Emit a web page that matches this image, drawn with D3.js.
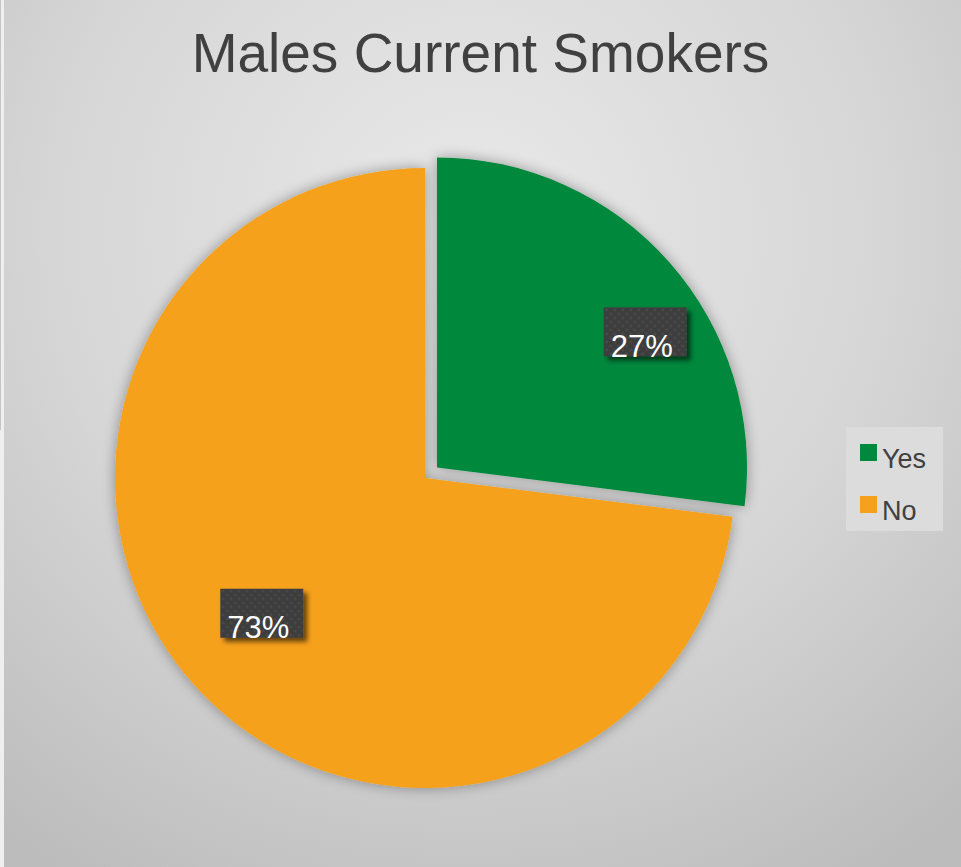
<!DOCTYPE html>
<html>
<head>
<meta charset="utf-8">
<script src="https://cdn.jsdelivr.net/npm/d3@7"></script>
<style>
  html, body { margin: 0; padding: 0; background: #ffffff; }
  svg { display: block; }
</style>
</head>
<body>
<div id="chart"></div>
<script>
// ---- data ----
const title = "Males Current Smokers";
const categories = ["Yes", "No"];
const values = [27, 73];
const colors = ["#00883d", "#f6a11d"];

// ---- layout ----
const W = 961, H = 867;
const R = 310;
const center = { x: 425, y: 478 };
const explode = [16, 0];
// label placement inside each slice: fraction of angle span and fraction of radius
const labelPlace = [{ t: 0.585, r: 0.80 }, { t: 0.507, r: 0.685 }];

const svg = d3.select("#chart").append("svg")
  .attr("width", W).attr("height", H);

const defs = svg.append("defs");
const bg = defs.append("radialGradient").attr("id", "bg")
  .attr("gradientUnits", "userSpaceOnUse")
  .attr("cx", 470).attr("cy", 230).attr("r", 760);
bg.append("stop").attr("offset", "0%").attr("stop-color", "#e9e9e9");
bg.append("stop").attr("offset", "55%").attr("stop-color", "#d6d6d6");
bg.append("stop").attr("offset", "100%").attr("stop-color", "#bcbcbc");

const sh = defs.append("filter").attr("id", "pieShadow")
  .attr("x", "-20%").attr("y", "-20%").attr("width", "140%").attr("height", "140%");
sh.append("feGaussianBlur").attr("in", "SourceAlpha").attr("stdDeviation", 7).attr("result", "b");
sh.append("feOffset").attr("in", "b").attr("dx", 0).attr("dy", 0).attr("result", "o");
sh.append("feComponentTransfer").attr("in", "o").attr("result", "s")
  .append("feFuncA").attr("type", "linear").attr("slope", 0.35);
const m1 = sh.append("feMerge");
m1.append("feMergeNode").attr("in", "s");
m1.append("feMergeNode").attr("in", "SourceGraphic");

const lsh = defs.append("filter").attr("id", "lblShadow")
  .attr("x", "-30%").attr("y", "-30%").attr("width", "170%").attr("height", "170%");
lsh.append("feGaussianBlur").attr("in", "SourceAlpha").attr("stdDeviation", 2.5).attr("result", "b");
lsh.append("feOffset").attr("in", "b").attr("dx", 4).attr("dy", 4).attr("result", "o");
lsh.append("feComponentTransfer").attr("in", "o").attr("result", "s")
  .append("feFuncA").attr("type", "linear").attr("slope", 0.6);
const m2 = lsh.append("feMerge");
m2.append("feMergeNode").attr("in", "s");
m2.append("feMergeNode").attr("in", "SourceGraphic");

const pat = defs.append("pattern").attr("id", "dots")
  .attr("patternUnits", "userSpaceOnUse").attr("width", 8).attr("height", 8);
pat.append("rect").attr("width", 8).attr("height", 8).attr("fill", "#3e3e3e");
pat.append("circle").attr("cx", 2).attr("cy", 2).attr("r", 1.3).attr("fill", "#4a4a4a");
pat.append("circle").attr("cx", 6).attr("cy", 6).attr("r", 1.3).attr("fill", "#4a4a4a");

// background
svg.append("rect").attr("width", W).attr("height", H).attr("fill", "url(#bg)");
svg.append("rect").attr("x", 0).attr("y", 0).attr("width", 4).attr("height", H).attr("fill", "#efefef");
svg.append("rect").attr("x", 0).attr("y", 0).attr("width", 1).attr("height", 430).attr("fill", "#c6c6c6");

// title
svg.append("text")
  .attr("x", W / 2).attr("y", 72)
  .attr("text-anchor", "middle")
  .attr("font-family", "'Liberation Sans', Arial, sans-serif")
  .attr("font-size", 55)
  .attr("fill", "#404040")
  .text(title);

// pie
const pie = d3.pie().sort(null).value(d => d.v);
const data = categories.map((c, i) => ({ c, v: values[i], i }));
const arcs = pie(data);
const arc = d3.arc().innerRadius(0).outerRadius(R);

const g = svg.append("g")
  .attr("transform", `translate(${center.x},${center.y})`)
  .attr("filter", "url(#pieShadow)");

function off(d) {
  const a = (d.startAngle + d.endAngle) / 2;
  const e = explode[d.data.i];
  return [e * Math.sin(a), -e * Math.cos(a)];
}

g.selectAll("path").data(arcs).join("path")
  .attr("d", arc)
  .attr("fill", d => colors[d.data.i])
  .attr("transform", d => { const o = off(d); return `translate(${o[0]},${o[1]})`; });

// data labels
const lg = svg.append("g").attr("transform", `translate(${center.x},${center.y})`);
arcs.forEach(d => {
  const p = labelPlace[d.data.i];
  const a = d.startAngle + (d.endAngle - d.startAngle) * p.t;
  const o = off(d);
  const x = o[0] + p.r * R * Math.sin(a);
  const y = o[1] - p.r * R * Math.cos(a);
  const grp = lg.append("g").attr("transform", `translate(${x},${y})`);
  grp.append("rect")
    .attr("x", -41).attr("y", -24.5).attr("width", 83).attr("height", 49)
    .attr("fill", "url(#dots)")
    .attr("filter", "url(#lblShadow)");
  grp.append("text")
    .attr("x", -3).attr("y", 25)
    .attr("text-anchor", "middle")
    .attr("font-family", "'Liberation Sans', Arial, sans-serif")
    .attr("font-size", 31)
    .attr("fill", "#ffffff")
    .text(Math.round(d.data.v) + "%");
});

// legend
const leg = svg.append("g");
leg.append("rect").attr("x", 846).attr("y", 427).attr("width", 97).attr("height", 104)
  .attr("fill", "#dcdcdc");
categories.forEach((c, i) => {
  const yy = 444 + i * 52;
  leg.append("rect").attr("x", 860).attr("y", yy).attr("width", 17).attr("height", 17)
    .attr("fill", colors[i]);
  leg.append("text").attr("x", 882).attr("y", yy + 23.5)
    .attr("font-family", "'Liberation Sans', Arial, sans-serif")
    .attr("font-size", 27)
    .attr("fill", "#404040")
    .text(c);
});
</script>
</body>
</html>
